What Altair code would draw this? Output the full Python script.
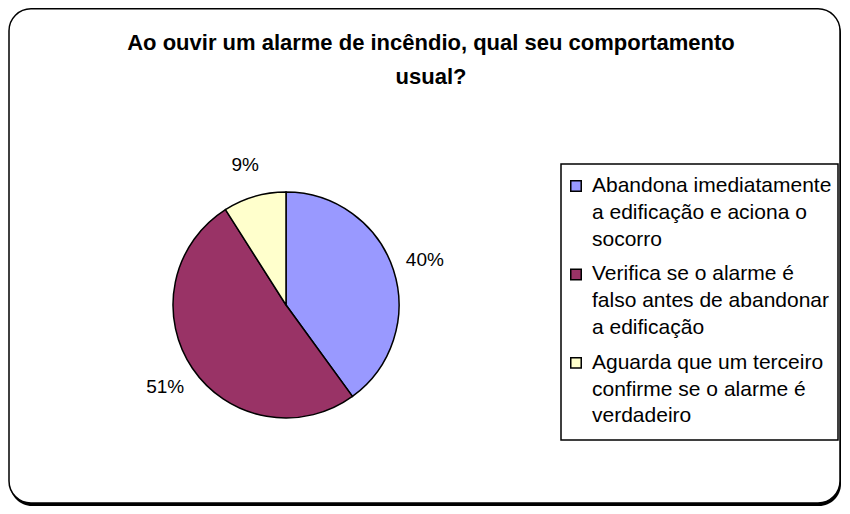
import altair as alt
import pandas as pd

title_lines = ["Ao ouvir um alarme de incêndio, qual seu comportamento", "usual?"]
categories = [
    "Abandona imediatamente a edificação e aciona o socorro",
    "Verifica se o alarme é falso antes de abandonar a edificação",
    "Aguarda que um terceiro confirme se o alarme é verdadeiro",
]
legend_lines = [
    ["Abandona imediatamente", "a edificação e aciona o", "socorro"],
    ["Verifica se o alarme é", "falso antes de abandonar", "a edificação"],
    ["Aguarda que um terceiro", "confirme se o alarme é", "verdadeiro"],
]
percentages = [40, 51, 9]
colors = ["#9999FF", "#993366", "#FFFFCC"]

FONT = "Liberation Sans"
CX, CY, R = 278, 297, 113

pie_df = pd.DataFrame({
    "category": categories,
    "value": percentages,
    "order": list(range(len(categories))),
    "label": [f"{v}%" for v in percentages],
})

rows = []
for i, (cat, lines) in enumerate(zip(categories, legend_lines)):
    for j, line in enumerate(lines):
        rows.append({"category": cat, "line": line, "slot": i * 3.3 + j, "first": j == 0})
leg_df = pd.DataFrame(rows)
sym_df = leg_df[leg_df["first"]]

color = alt.Color("category:N", scale=alt.Scale(domain=categories, range=colors), legend=None)
ly = alt.Y("slot:Q", scale=alt.Scale(domain=[0, 8], range=[178, 178 + 8 * 26.8], zero=False, nice=False), axis=None)

one = pd.DataFrame({"k": [0]})

shadow = alt.Chart(one).mark_rect(cornerRadius=22, fill="black").encode(
    x=alt.value(2), x2=alt.value(833), y=alt.value(4), y2=alt.value(498))
border = alt.Chart(one).mark_rect(cornerRadius=22, fill="white", stroke="black", strokeWidth=1.5).encode(
    x=alt.value(1), x2=alt.value(832), y=alt.value(0.75), y2=alt.value(495))
legend_box = alt.Chart(one).mark_rect(fill="white", stroke="black", strokeWidth=1.5).encode(
    x=alt.value(553), x2=alt.value(830), y=alt.value(156), y2=alt.value(432))

title = alt.Chart(pd.DataFrame({"t": ["\n".join(title_lines)]})).mark_text(
    font=FONT, fontSize=22, fontWeight="bold", align="center", baseline="alphabetic",
    lineBreak="\n", lineHeight=34, color="black"
).encode(text="t:N", x=alt.value(423), y=alt.value(42))

arc = alt.Chart(pie_df).mark_arc(outerRadius=R, stroke="black", strokeWidth=1.5).encode(
    theta=alt.Theta("value:Q").stack(True),
    order=alt.Order("order:Q"),
    color=color,
    x=alt.value(CX), y=alt.value(CY),
)
labels = alt.Chart(pie_df).mark_text(radius=146, font=FONT, fontSize=19, color="black").encode(
    theta=alt.Theta("value:Q").stack(True),
    order=alt.Order("order:Q"),
    text="label:N",
    x=alt.value(CX), y=alt.value(CY),
)

symbols = alt.Chart(sym_df).mark_square(size=110, stroke="black", strokeWidth=1.5, opacity=1, filled=True).encode(
    x=alt.value(568), y=ly, color=color)
leg_text = alt.Chart(leg_df).mark_text(font=FONT, fontSize=21, align="left", baseline="middle", color="black").encode(
    x=alt.value(584), y=ly, text="line:N")

chart = alt.layer(shadow, border, legend_box, title, arc, labels, symbols, leg_text).properties(
    width=834, height=498, padding=0, background="white"
).configure_view(stroke=None)

chart.save("out.html", embed_options={"renderer": "svg", "actions": False})
